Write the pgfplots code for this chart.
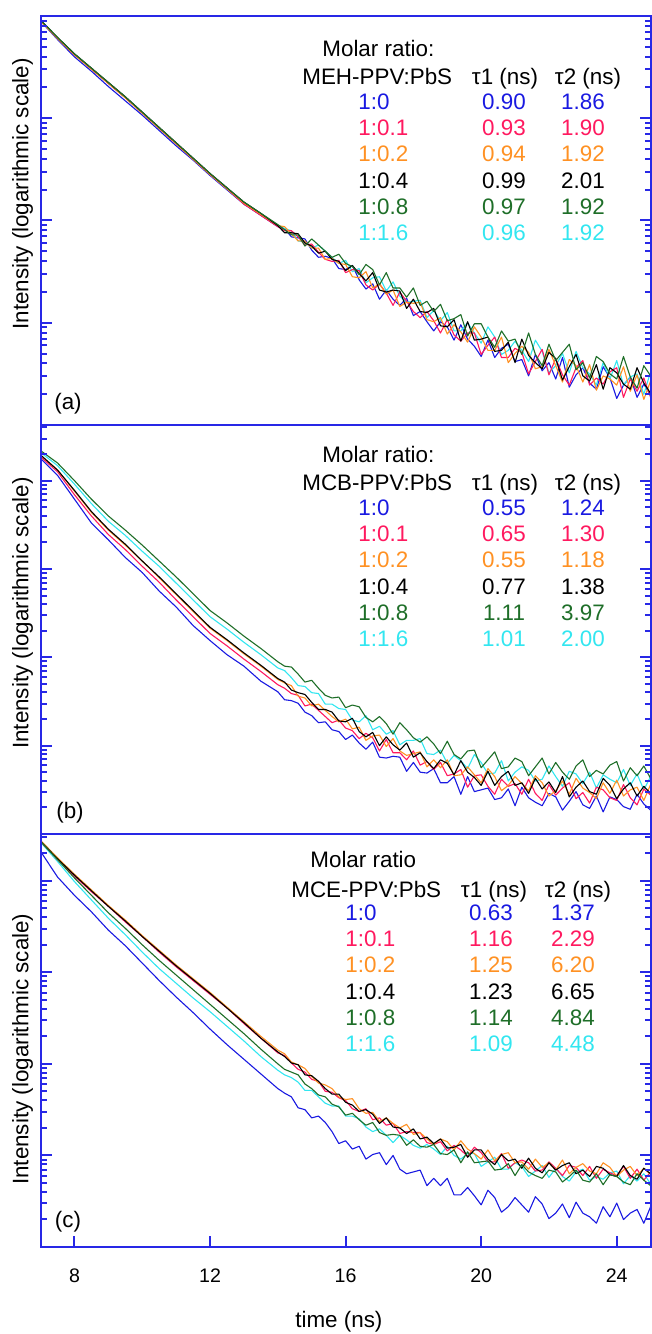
\documentclass[border=0pt]{standalone}
\usepackage{pgfplots}
\pgfplotsset{compat=1.18}
\usepackage{pgfplotstable}
\usepackage{fontspec}
\setmainfont{Liberation Sans}
\definecolor{framec}{RGB}{40,40,230}
\definecolor{cb}{RGB}{25,25,225}
\definecolor{cr}{RGB}{255,25,95}
\definecolor{co}{RGB}{255,145,35}
\definecolor{ck}{RGB}{0,0,0}
\definecolor{cg}{RGB}{30,110,40}
\definecolor{cc}{RGB}{50,230,240}
\newcommand\tf{\fontsize{11.2bp}{13bp}\selectfont}

\pgfplotstableread{
x b r o k g c
7.0 3.95 3.96 3.95 3.96 3.96 3.96
7.5 3.77 3.78 3.78 3.79 3.79 3.78
8.0 3.60 3.62 3.62 3.63 3.63 3.62
8.5 3.46 3.48 3.48 3.49 3.49 3.48
9.0 3.31 3.34 3.34 3.35 3.35 3.34
9.5 3.17 3.20 3.20 3.21 3.21 3.20
10.0 3.03 3.05 3.05 3.06 3.06 3.05
10.5 2.88 2.90 2.90 2.91 2.91 2.90
11.0 2.73 2.75 2.75 2.76 2.76 2.75
11.5 2.59 2.60 2.60 2.61 2.61 2.60
12.0 2.44 2.45 2.45 2.46 2.46 2.45
12.5 2.30 2.31 2.31 2.32 2.32 2.31
13.0 2.16 2.16 2.17 2.18 2.18 2.17
13.5 2.05 2.05 2.06 2.07 2.07 2.06
14.0 1.94 1.94 1.95 1.95 1.96 1.95
14.2 1.92 1.90 1.94 1.88 1.91 1.92
14.4 1.84 1.90 1.87 1.88 1.86 1.90
14.6 1.83 1.84 1.80 1.87 1.86 1.80
14.8 1.82 1.76 1.80 1.78 1.75 1.79
15.0 1.71 1.77 1.73 1.75 1.82 1.73
15.2 1.64 1.69 1.73 1.68 1.76 1.76
15.4 1.65 1.62 1.62 1.70 1.70 1.70
15.6 1.63 1.60 1.63 1.62 1.64 1.64
15.8 1.53 1.61 1.58 1.60 1.67 1.58
16.0 1.52 1.49 1.57 1.51 1.58 1.61
16.2 1.56 1.52 1.45 1.56 1.55 1.50
16.4 1.42 1.51 1.44 1.48 1.47 1.53
16.6 1.33 1.37 1.50 1.41 1.57 1.39
16.8 1.38 1.32 1.34 1.49 1.52 1.44
17.0 1.23 1.38 1.38 1.32 1.37 1.45
17.2 1.32 1.29 1.28 1.30 1.49 1.31
17.4 1.23 1.17 1.32 1.32 1.34 1.40
17.6 1.17 1.30 1.16 1.31 1.34 1.26
17.8 1.24 1.21 1.20 1.14 1.25 1.20
18.0 1.07 1.11 1.19 1.23 1.34 1.21
18.2 1.11 1.05 1.20 1.11 1.17 1.22
18.4 1.01 1.11 1.03 1.10 1.21 1.05
18.6 0.92 1.02 1.01 1.14 1.11 1.12
18.8 1.01 0.90 1.05 0.97 1.18 1.02
19.0 0.96 1.03 0.89 0.96 1.02 1.10
19.2 0.83 0.88 0.98 1.03 1.04 0.92
19.4 0.98 0.82 0.91 0.82 1.08 0.92
19.6 0.84 0.90 0.81 1.01 0.87 1.00
19.8 0.77 0.90 0.96 0.83 0.99 0.90
20.0 0.67 0.69 0.86 0.84 0.99 0.80
20.2 0.83 0.78 0.73 0.86 0.86 0.96
20.4 0.66 0.86 0.73 0.72 0.76 0.86
20.6 0.75 0.66 0.86 0.73 0.92 0.69
20.8 0.79 0.66 0.61 0.81 0.82 0.73
21.0 0.62 0.75 0.70 0.61 0.84 0.82
21.2 0.64 0.71 0.77 0.84 0.69 0.73
21.4 0.48 0.50 0.71 0.68 0.90 0.62
21.6 0.69 0.62 0.55 0.61 0.69 0.83
21.8 0.53 0.74 0.57 0.55 0.58 0.72
22.0 0.61 0.49 0.74 0.71 0.79 0.51
22.2 0.45 0.65 0.58 0.65 0.63 0.58
22.4 0.66 0.49 0.42 0.44 0.71 0.70
22.6 0.37 0.39 0.64 0.57 0.79 0.51
22.8 0.49 0.56 0.58 0.69 0.54 0.72
23.0 0.56 0.63 0.42 0.48 0.61 0.56
23.2 0.41 0.39 0.59 0.43 0.46 0.50
23.4 0.35 0.46 0.34 0.59 0.67 0.39
23.6 0.57 0.40 0.48 0.35 0.62 0.61
23.8 0.46 0.52 0.45 0.56 0.50 0.45
24.0 0.26 0.56 0.39 0.51 0.45 0.63
24.2 0.39 0.27 0.57 0.40 0.67 0.39
24.4 0.47 0.45 0.33 0.35 0.47 0.47
24.6 0.27 0.33 0.49 0.56 0.36 0.50
24.8 0.40 0.46 0.25 0.41 0.58 0.30
25.0 0.29 0.27 0.43 0.31 0.48 0.52
}\tA

\pgfplotstableread{
x b r o k g c
7.0 4.25 4.27 4.29 4.29 4.34 4.32
7.5 4.06 4.10 4.12 4.12 4.20 4.17
8.0 3.79 3.84 3.88 3.89 4.00 3.96
8.5 3.52 3.60 3.64 3.65 3.79 3.74
9.0 3.33 3.39 3.44 3.45 3.60 3.54
9.5 3.13 3.22 3.27 3.28 3.44 3.38
10.0 2.96 3.03 3.09 3.09 3.27 3.20
10.5 2.75 2.85 2.90 2.91 3.09 3.03
11.0 2.57 2.65 2.71 2.72 2.91 2.84
11.5 2.36 2.46 2.52 2.53 2.72 2.65
12.0 2.19 2.27 2.33 2.34 2.53 2.46
12.5 2.03 2.13 2.19 2.20 2.39 2.32
13.0 1.90 1.98 2.04 2.05 2.24 2.17
13.5 1.73 1.84 1.90 1.91 2.10 2.03
14.0 1.61 1.69 1.75 1.76 1.95 1.88
14.2 1.52 1.65 1.71 1.72 1.90 1.85
14.4 1.51 1.59 1.68 1.63 1.89 1.77
14.6 1.48 1.57 1.56 1.60 1.81 1.68
14.8 1.38 1.45 1.54 1.58 1.72 1.67
15.0 1.34 1.47 1.45 1.49 1.74 1.60
15.2 1.26 1.40 1.47 1.41 1.65 1.59
15.4 1.27 1.33 1.40 1.41 1.57 1.47
15.6 1.18 1.26 1.33 1.38 1.54 1.47
15.8 1.16 1.29 1.27 1.28 1.55 1.42
16.0 1.07 1.20 1.30 1.27 1.43 1.41
16.2 1.12 1.17 1.19 1.31 1.46 1.29
16.4 1.03 1.08 1.21 1.16 1.44 1.27
16.6 0.96 1.14 1.06 1.10 1.32 1.34
16.8 1.04 1.09 1.11 1.15 1.27 1.18
17.0 0.87 0.94 1.12 1.00 1.33 1.22
17.2 0.86 1.07 0.99 1.10 1.25 1.13
17.4 0.88 0.92 1.08 1.01 1.13 1.17
17.6 0.87 0.92 0.94 0.95 1.26 1.01
17.8 0.71 0.84 0.89 1.03 1.18 1.06
18.0 0.81 0.94 0.91 0.87 1.09 1.06
18.2 0.70 0.78 0.93 0.92 1.04 1.08
18.4 0.69 0.82 0.76 0.82 1.10 0.91
18.6 0.74 0.73 0.84 0.74 1.02 0.90
18.8 0.58 0.81 0.75 0.84 0.91 0.95
19.0 0.58 0.66 0.84 0.80 1.05 0.80
19.2 0.65 0.68 0.66 0.67 0.90 0.89
19.4 0.45 0.73 0.67 0.83 0.85 0.83
19.6 0.65 0.53 0.76 0.70 0.94 0.74
19.8 0.48 0.66 0.67 0.64 0.95 0.90
20.0 0.50 0.67 0.58 0.55 0.75 0.81
20.2 0.52 0.54 0.74 0.71 0.84 0.68
20.4 0.39 0.45 0.65 0.55 0.93 0.69
20.6 0.41 0.62 0.49 0.65 0.74 0.83
20.8 0.51 0.54 0.55 0.71 0.76 0.60
21.0 0.32 0.57 0.65 0.55 0.86 0.70
21.2 0.53 0.45 0.57 0.58 0.82 0.76
21.4 0.41 0.62 0.49 0.46 0.66 0.72
21.6 0.36 0.46 0.66 0.63 0.76 0.60
21.8 0.32 0.38 0.58 0.51 0.86 0.62
22.0 0.46 0.56 0.43 0.59 0.68 0.77
22.2 0.42 0.44 0.49 0.47 0.81 0.65
22.4 0.27 0.52 0.60 0.65 0.70 0.54
22.6 0.37 0.58 0.45 0.42 0.62 0.71
22.8 0.48 0.40 0.63 0.53 0.77 0.68
23.0 0.33 0.47 0.52 0.60 0.84 0.57
23.2 0.29 0.35 0.47 0.48 0.65 0.70
23.4 0.43 0.53 0.40 0.45 0.72 0.52
23.6 0.25 0.50 0.58 0.63 0.68 0.67
23.8 0.42 0.41 0.46 0.55 0.78 0.62
24.0 0.39 0.38 0.61 0.40 0.82 0.58
24.2 0.31 0.56 0.43 0.51 0.60 0.73
24.4 0.28 0.41 0.50 0.58 0.75 0.55
24.6 0.45 0.33 0.53 0.43 0.66 0.68
24.8 0.34 0.51 0.38 0.54 0.77 0.50
25.0 0.27 0.44 0.56 0.46 0.63 0.65
}\tB

\pgfplotstableread{
x b r o k g c
7.0 4.32 4.43 4.44 4.43 4.43 4.42
7.5 4.04 4.23 4.25 4.24 4.23 4.21
8.0 3.84 4.05 4.07 4.06 4.03 3.99
8.5 3.66 3.88 3.90 3.89 3.84 3.79
9.0 3.46 3.72 3.73 3.72 3.65 3.59
9.5 3.29 3.55 3.57 3.56 3.48 3.41
10.0 3.10 3.39 3.40 3.39 3.30 3.22
10.5 2.91 3.22 3.24 3.23 3.13 3.04
11.0 2.73 3.06 3.08 3.07 2.97 2.88
11.5 2.56 2.91 2.93 2.92 2.81 2.72
12.0 2.38 2.76 2.78 2.77 2.65 2.57
12.5 2.21 2.61 2.62 2.61 2.49 2.41
13.0 2.05 2.44 2.46 2.45 2.33 2.25
13.5 1.89 2.28 2.30 2.28 2.16 2.08
14.0 1.73 2.12 2.15 2.13 2.00 1.93
14.2 1.68 2.09 2.11 2.08 1.94 1.88
14.4 1.64 2.01 2.02 2.01 1.91 1.85
14.6 1.52 1.94 1.99 1.99 1.88 1.80
14.8 1.50 1.91 1.95 1.88 1.78 1.71
15.0 1.41 1.83 1.86 1.87 1.73 1.71
15.2 1.43 1.81 1.79 1.81 1.66 1.64
15.4 1.36 1.70 1.77 1.73 1.64 1.57
15.6 1.26 1.69 1.73 1.67 1.56 1.54
15.8 1.13 1.63 1.64 1.67 1.53 1.54
16.0 1.16 1.60 1.61 1.58 1.44 1.43
16.2 1.07 1.51 1.62 1.55 1.46 1.43
16.4 1.10 1.48 1.51 1.48 1.39 1.40
16.6 0.96 1.51 1.46 1.50 1.33 1.31
16.8 1.01 1.39 1.47 1.45 1.36 1.26
17.0 1.03 1.41 1.37 1.35 1.25 1.29
17.2 0.90 1.33 1.41 1.41 1.22 1.22
17.4 1.00 1.35 1.35 1.31 1.23 1.14
17.6 0.85 1.24 1.30 1.30 1.22 1.22
17.8 0.80 1.26 1.34 1.24 1.11 1.17
18.0 0.82 1.25 1.23 1.29 1.17 1.11
18.2 0.84 1.25 1.25 1.18 1.10 1.08
18.4 0.67 1.14 1.18 1.20 1.09 1.12
18.6 0.75 1.12 1.12 1.13 1.12 1.07
18.8 0.67 1.15 1.18 1.18 1.02 1.01
19.0 0.75 1.05 1.15 1.08 1.01 1.10
19.2 0.57 1.11 1.06 1.09 1.06 1.00
19.4 0.57 1.06 1.16 1.12 0.92 0.96
19.6 0.65 0.99 1.07 0.98 1.04 1.02
19.8 0.56 1.09 1.02 1.06 0.92 1.02
20.0 0.46 1.03 0.96 1.06 0.93 0.88
20.2 0.62 0.93 1.06 0.96 0.94 0.93
20.4 0.54 0.93 0.94 0.90 0.84 0.98
20.6 0.38 1.02 1.01 1.01 0.85 0.85
20.8 0.44 0.86 1.03 0.94 0.91 0.85
21.0 0.54 0.92 0.92 0.96 0.78 0.92
21.2 0.46 0.95 0.93 0.86 0.90 0.88
21.4 0.38 0.92 0.85 0.97 0.82 0.77
21.6 0.55 0.83 0.96 0.86 0.78 0.83
21.8 0.47 0.84 0.87 0.81 0.75 0.89
22.0 0.31 0.93 0.92 0.92 0.84 0.76
22.2 0.37 0.86 0.84 0.84 0.82 0.86
22.4 0.47 0.78 0.95 0.89 0.71 0.77
22.6 0.32 0.89 0.80 0.92 0.77 0.72
22.8 0.49 0.87 0.87 0.80 0.84 0.82
23.0 0.37 0.78 0.91 0.84 0.73 0.85
23.2 0.33 0.88 0.83 0.77 0.71 0.73
23.4 0.26 0.75 0.80 0.88 0.80 0.77
23.6 0.44 0.85 0.92 0.86 0.68 0.74
23.8 0.33 0.81 0.87 0.79 0.79 0.81
24.0 0.48 0.78 0.77 0.77 0.77 0.83
24.2 0.30 0.88 0.84 0.89 0.71 0.69
24.4 0.37 0.75 0.88 0.78 0.68 0.78
24.6 0.41 0.85 0.78 0.74 0.80 0.72
24.8 0.26 0.73 0.86 0.86 0.73 0.80
25.0 0.44 0.82 0.79 0.80 0.67 0.69
}\tC

\pgfplotsset{
  panel/.style={
    scale only axis, width=305bp,
    xmin=7, xmax=25, ymin=0,
    axis on top,
    axis line style={draw=framec, line width=1bp},
    every tick/.style={draw=framec, line width=1bp},
    major tick length=5.5bp,
    tick align=inside,
    ytick={0,1,2,3,4},
    yticklabels={}, xtick=\empty,
    minor y tick num=0,
    extra y tick labels={},
    extra y tick style={major tick length=3bp},
    every axis y label/.style={rotate=90, anchor=center, font=\tf},
    every axis plot/.append style={line width=0.55bp, mark=none, line join=round},
  },
}
\newcommand\sixplots[1]{%
  \addplot[cb] table[x=x,y=b]{#1};
  \addplot[cc] table[x=x,y=c]{#1};
  \addplot[cr] table[x=x,y=r]{#1};
  \addplot[co] table[x=x,y=o]{#1};
  \addplot[ck] table[x=x,y=k]{#1};
  \addplot[cg] table[x=x,y=g]{#1};
}
\newcommand\trow[8]{%
  \node[anchor=base west,inner sep=0pt,text=#1] at (#3,#2) {\tf #4};
  \node[anchor=base,inner sep=0pt,text=#1] at (#5,#2) {\tf #6};
  \node[anchor=base,inner sep=0pt,text=#1] at (#7,#2) {\tf #8};}

\begin{document}
\begin{tikzpicture}
\useasboundingbox (0,0) rectangle (326bp,-667bp);
% panel (a)
\begin{axis}[panel, at={(20.3bp,-8bp)}, anchor=north west,
  height=204.5bp, ymax=4,
  extra y ticks={0.30103,0.47712,0.60206,0.69897,0.77815,0.8451,0.90309,0.95424,1.30103,1.47712,1.60206,1.69897,1.77815,1.8451,1.90309,1.95424,2.30103,2.47712,2.60206,2.69897,2.77815,2.8451,2.90309,2.95424,3.30103,3.47712,3.60206,3.69897,3.77815,3.8451,3.90309,3.95424},
  ylabel={Intensity (logarithmic scale)},
  ylabel style={at={(axis description cs:-0.0295,0.565)}}]
\sixplots{\tA}
\end{axis}
% panel (b)
\begin{axis}[panel, at={(20.3bp,-212.5bp)}, anchor=north west,
  height=204.5bp, ymax=4.63,
  extra y ticks={0.30103,0.47712,0.60206,0.69897,0.77815,0.8451,0.90309,0.95424,1.30103,1.47712,1.60206,1.69897,1.77815,1.8451,1.90309,1.95424,2.30103,2.47712,2.60206,2.69897,2.77815,2.8451,2.90309,2.95424,3.30103,3.47712,3.60206,3.69897,3.77815,3.8451,3.90309,3.95424,4.30103,4.47712,4.60206},
  ylabel={Intensity (logarithmic scale)},
  ylabel style={at={(axis description cs:-0.0295,0.540)}}]
\sixplots{\tB}
\end{axis}
% panel (c)
\begin{axis}[panel, at={(20.3bp,-417bp)}, anchor=north west,
  height=206.5bp, ymax=4.51,
  extra y ticks={0.30103,0.47712,0.60206,0.69897,0.77815,0.8451,0.90309,0.95424,1.30103,1.47712,1.60206,1.69897,1.77815,1.8451,1.90309,1.95424,2.30103,2.47712,2.60206,2.69897,2.77815,2.8451,2.90309,2.95424,3.30103,3.47712,3.60206,3.69897,3.77815,3.8451,3.90309,3.95424,4.30103,4.47712},
  xtick={8,12,16,20,24}, xtick pos=bottom,
  /pgf/number format/assume math mode=true,
  xticklabel style={font=\fontsize{9.8bp}{11bp}\selectfont, anchor=center, yshift=-14.5bp},
  xlabel={time (ns)},
  every axis x label/.style={at={(axis description cs:0.489,-0.1816)}, anchor=center, font=\tf},
  ylabel={Intensity (logarithmic scale)},
  ylabel style={at={(axis description cs:-0.0295,0.479)}}]
\sixplots{\tC}
\end{axis}

\begin{scope}[x=0.5bp,y=-0.5bp]
% panel (a) texts
\node[anchor=base west,inner sep=0pt] at (322,56) {\tf Molar ratio:};
\node[anchor=base west,inner sep=0pt] at (302,85) {\tf MEH-PPV:PbS};
\node[anchor=base,inner sep=0pt] at (505,85) {\tf τ1 (ns)};
\node[anchor=base,inner sep=0pt] at (588,85) {\tf τ2 (ns)};
\trow{cb}{110}{358}{1:0}{504}{0.90}{583}{1.86}
\trow{cr}{136}{358}{1:0.1}{504}{0.93}{583}{1.90}
\trow{co}{162}{358}{1:0.2}{504}{0.94}{583}{1.92}
\trow{ck}{189}{358}{1:0.4}{504}{0.99}{583}{2.01}
\trow{cg}{215}{358}{1:0.8}{504}{0.97}{583}{1.92}
\trow{cc}{241}{358}{1:1.6}{504}{0.96}{583}{1.92}
\node[inner sep=0pt] at (68,404) {\tf (a)};
% panel (b) texts
\node[anchor=base west,inner sep=0pt] at (322,463) {\tf Molar ratio:};
\node[anchor=base west,inner sep=0pt] at (302,491) {\tf MCB-PPV:PbS};
\node[anchor=base,inner sep=0pt] at (505,491) {\tf τ1 (ns)};
\node[anchor=base,inner sep=0pt] at (588,491) {\tf τ2 (ns)};
\trow{cb}{516}{358}{1:0}{504}{0.55}{583}{1.24}
\trow{cr}{542}{358}{1:0.1}{504}{0.65}{583}{1.30}
\trow{co}{568}{358}{1:0.2}{504}{0.55}{583}{1.18}
\trow{ck}{595}{358}{1:0.4}{504}{0.77}{583}{1.38}
\trow{cg}{621}{358}{1:0.8}{504}{1.11}{583}{3.97}
\trow{cc}{647}{358}{1:1.6}{504}{1.01}{583}{2.00}
\node[inner sep=0pt] at (70,813) {\tf (b)};
% panel (c) texts
\node[anchor=base west,inner sep=0pt] at (310,868) {\tf Molar ratio};
\node[anchor=base west,inner sep=0pt] at (291,898) {\tf MCE-PPV:PbS};
\node[anchor=base,inner sep=0pt] at (494,898) {\tf τ1 (ns)};
\node[anchor=base,inner sep=0pt] at (578,898) {\tf τ2 (ns)};
\trow{cb}{921}{345}{1:0}{491}{0.63}{573}{1.37}
\trow{cr}{947}{345}{1:0.1}{491}{1.16}{573}{2.29}
\trow{co}{973}{345}{1:0.2}{491}{1.25}{573}{6.20}
\trow{ck}{1000}{345}{1:0.4}{491}{1.23}{573}{6.65}
\trow{cg}{1026}{345}{1:0.8}{491}{1.14}{573}{4.84}
\trow{cc}{1052}{345}{1:1.6}{491}{1.09}{573}{4.48}
\node[inner sep=0pt] at (68,1222) {\tf (c)};
\end{scope}
\end{tikzpicture}
\end{document}
